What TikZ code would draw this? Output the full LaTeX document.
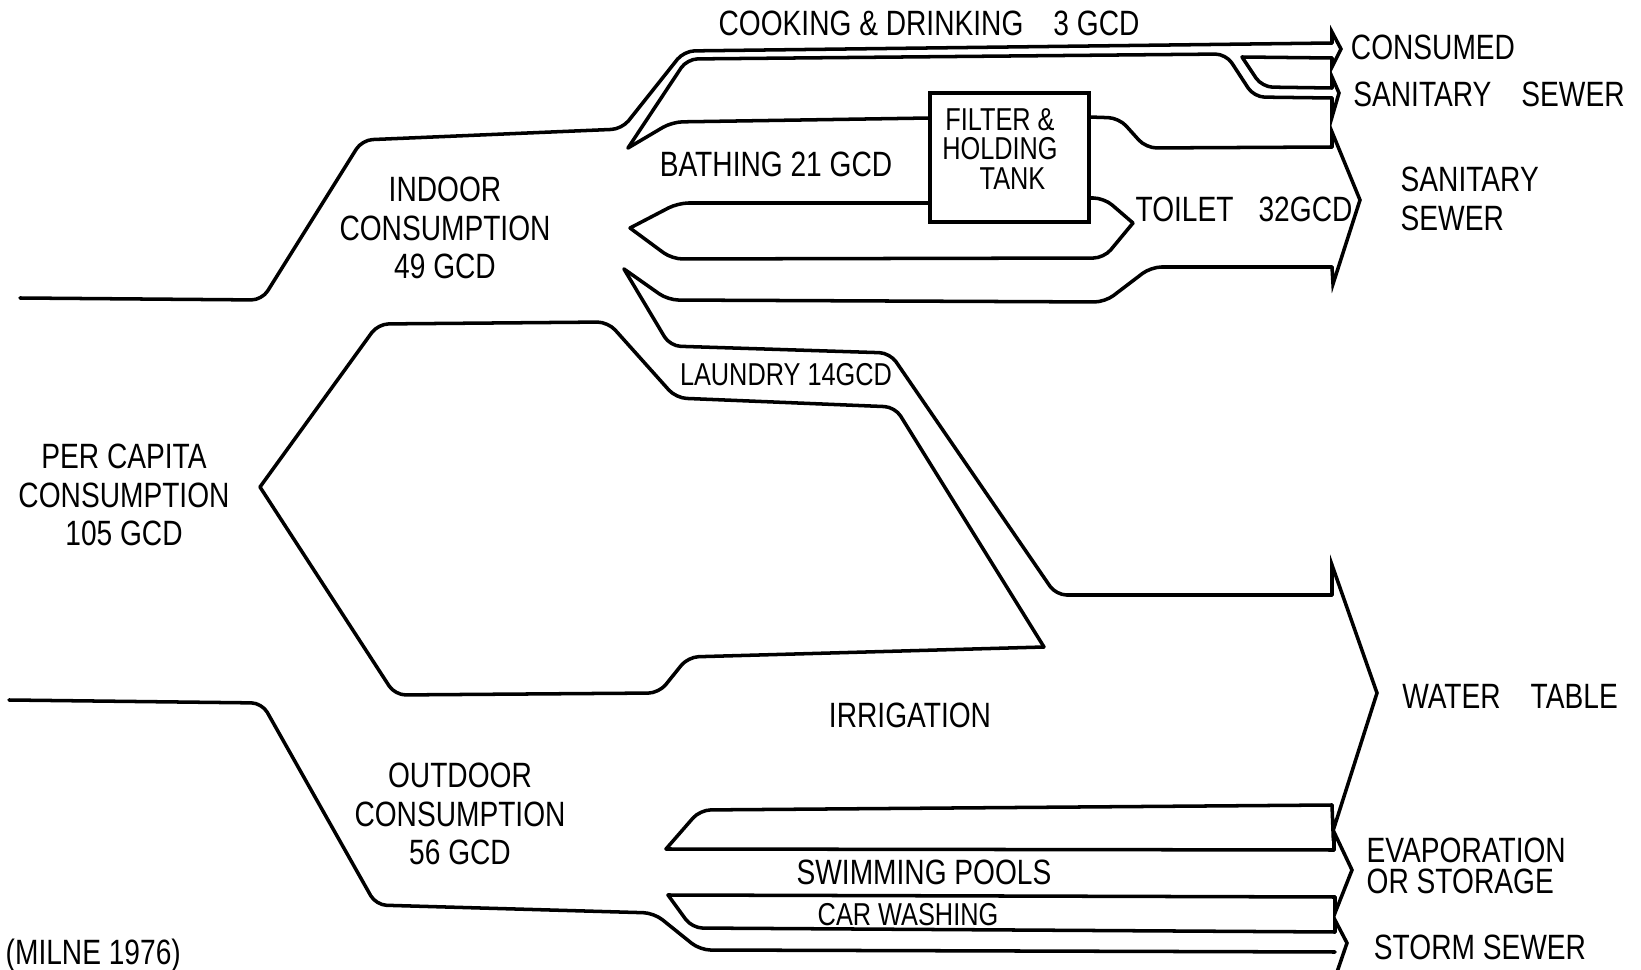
\documentclass[tikz,border=0pt]{standalone}
\usepackage{fontspec}
\setmainfont{Liberation Sans}[FakeStretch=0.8]
\usetikzlibrary{positioning}
\tikzset{
    flow/.style={line width=1pt, rounded corners=3pt, line cap=round, line join=round},
    tip/.style={line width=1pt, line cap=round, line join=miter},
    tankbox/.style={rectangle, draw, line width=1pt, minimum width=1.59cm, minimum height=1.29cm, inner sep=0pt},
    lbl/.style={font=\fontsize{10}{11}\selectfont, inner sep=0pt, align=center}
}

\begin{document}
\begin{tikzpicture}[
        x=0.01cm, y=-0.01cm,
        side/.style={lbl, align=left},
        small/.style={lbl, font=\fontsize{9}{8.5}\selectfont}
        ]
    \useasboundingbox (0,0) rectangle (1641,970);

    % --- PER CAPITA: outer edges ---
    \draw[flow] (20,298) -- (262,300) -- (362,140) -- (622,129) -- (684,51) -- (1332,43);
    \draw[flow] (9,700) -- (262,703) -- (376,905) -- (654,913) -- (700,950) -- (1335,952);

    % island between indoor and outdoor
    \draw[flow] (260,487) -- (378,324) -- (608,322) -- (676,398) -- (895,407) -- (1044,647);
    \draw[flow] (1044,647) -- (688,657) -- (659,693) -- (395,695) -- (260,487);

    % --- INDOOR: cooking & drinking ---
    \draw[flow] (628,148) -- (687,59) -- (1226,54) -- (1254,97) -- (1332,98);
    \draw[flow] (1332,58) -- (1242,57);
    \draw[flow] (1242,57) -- (1262,87) -- (1332,88);
    \draw[tip] (1332,43) -- (1332,32) -- (1341,49) -- (1332,67) -- (1332,58);
    \draw[tip] (1332,88) -- (1332,77) -- (1339,93) -- (1332,117) -- (1332,98);

    % bathing into the tank
    \draw[flow] (628,148) -- (672,122) -- (930,118);
    \node[tankbox] (tank) at (1009.5,157.5) {};
    \node[small] (tanktxt) at (1000,149) {FILTER \&\\HOLDING\\\hspace*{0.25cm}TANK};

    % island below bathing (tank to toilet)
    \draw[flow] (930,203) -- (678,203) -- (630,228);
    \draw[flow] (630,228) -- (672,259) -- (1104,258) -- (1133,223);
    \draw[flow] (1133,223) -- (1104,198) -- (1089,198);

    % toilet to sanitary sewer
    \draw[flow] (1089,117) -- (1119,118) -- (1146,148) -- (1332,147);
    \draw[flow] (624,269) -- (668,300) -- (1105,302) -- (1151,267) -- (1332,267);
    \draw[tip] (1332,147) -- (1332,132) -- (1360,200) -- (1333,284) -- (1332,267);

    % --- LAUNDRY to water table ---
    \draw[flow] (624,269) -- (670,346) -- (890,353) -- (1056,595) -- (1332,595);
    \draw[tip] (1332,595) -- (1332,565) -- (1377,693) -- (1333,831) -- (1332,805);

    % --- OUTDOOR: pools and car washing ---
    \draw[flow] (1332,805) -- (700,810) -- (666,849);
    \draw[flow] (666,849) -- (1334,850);
    \draw[flow] (668,895) -- (1335,897);
    \draw[flow] (668,895) -- (692,928) -- (1335,932);
    \draw[tip] (1334,850) -- (1334,832) -- (1352,870) -- (1335,913) -- (1335,897);
    \draw[tip] (1335,932) -- (1335,920) -- (1347,943) -- (1336,975);

    % --- LABELS ---
    \node[lbl] (cook) at (929,23) {COOKING \& DRINKING\hspace{0.3cm}3 GCD};
    \node[lbl] (consumed) at (1433,47) {CONSUMED};
    \node[lbl] (sewerA) at (1489,94) {SANITARY\hspace{0.3cm}SEWER};
    \node[lbl] (bath) at (776,164) {BATHING 21 GCD};
    \node[lbl] (toilet) at (1244,209) {TOILET\hspace{0.25cm}32GCD};
    \node[side, anchor=west] (sewerB) at (1400,199) {SANITARY\\SEWER};
    \node[lbl] (indoor) at (445,228) {INDOOR\\CONSUMPTION\\49 GCD};
    \node[small] (laundry) at (786,375) {LAUNDRY 14GCD};
    \node[lbl] (percap) at (124,495) {PER CAPITA\\CONSUMPTION\\105 GCD};
    \node[lbl] (irrig) at (910,715) {IRRIGATION};
    \node[lbl] (table) at (1510,696) {WATER\hspace{0.3cm}TABLE};
    \node[lbl] (outdoor) at (460,814) {OUTDOOR\\CONSUMPTION\\56 GCD};
    \node[lbl] (pools) at (924,872) {SWIMMING POOLS};
    \node[small] (car) at (908,915) {CAR WASHING};
    \node[side, anchor=west, font=\fontsize{10}{9}\selectfont] (evap) at (1366,866) {EVAPORATION\\OR STORAGE};
    \node[lbl] (storm) at (1480,947) {STORM SEWER};
    \node[lbl, anchor=west] (milne) at (5,955) {(MILNE 1976)};

\end{tikzpicture}
\end{document}
